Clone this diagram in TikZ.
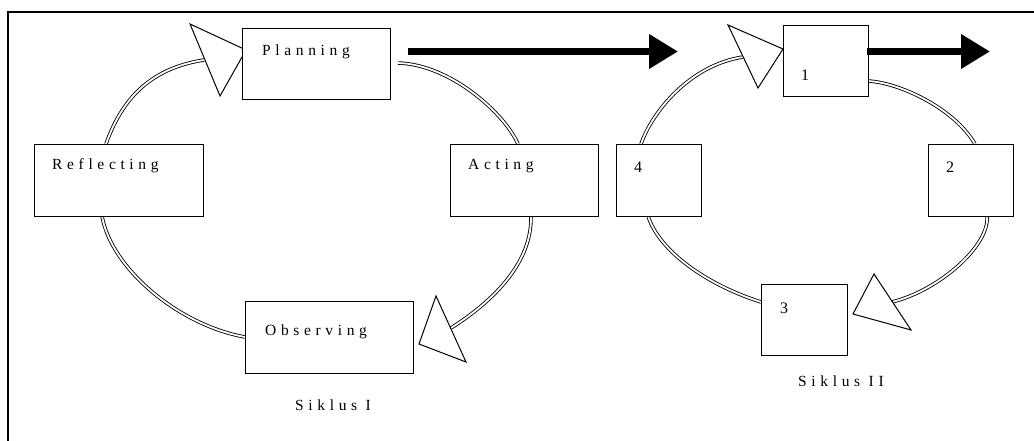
\documentclass[tikz,border=0pt]{standalone}
\usepackage{fontspec}
\setmainfont{Liberation Serif}
\newfontfamily\spaced[LetterSpace=30]{Liberation Serif}
\usetikzlibrary{arrows.meta}
\begin{document}
\begin{tikzpicture}[x=1pt,y=-1pt,
 box/.style={draw, line width=1.1pt, fill=white, inner sep=0pt, anchor=north west},
 lbl/.style={anchor=base west, inner sep=0pt, font=\fontsize{15.5}{18}\selectfont\spaced},
 num/.style={anchor=base west, inner sep=0pt, font=\fontsize{16}{18}\selectfont},
 ring/.style={double=white, double distance=1.8pt, line width=0.85pt},
 head/.style={draw, line width=1pt, fill=white, line join=miter},
 bigarrow/.style={line width=7pt, -{Triangle[length=29pt,width=33pt]}}]
\useasboundingbox (0,0) rectangle (1034,441);
\fill[white] (0,0) rectangle (1034,441);
\draw[line width=1.3pt] (8,12) rectangle (1040,448);

% curve end points
\coordinate (c1s) at (106,144); \coordinate (c1e) at (204,60);
\coordinate (c2s) at (398,63);  \coordinate (c2e) at (518,144);
\coordinate (c3s) at (531,216); \coordinate (c3e) at (451,328);
\coordinate (c4s) at (102,216); \coordinate (c4e) at (245,337);
\coordinate (c5s) at (641,144); \coordinate (c5e) at (743,57);
\coordinate (c6s) at (868,81);  \coordinate (c6e) at (975,144);
\coordinate (c7s) at (987,216); \coordinate (c7e) at (892,302);
\coordinate (c8s) at (648,216); \coordinate (c8e) at (761,302);

% cycle curves
\draw[ring] (c1s) .. controls (125,90) and (159,67) .. (c1e);
\draw[ring] (c2s) .. controls (451,64.5) and (505,114) .. (c2e);
\draw[ring] (c3s) .. controls (532,262) and (495,300) .. (c3e);
\draw[ring] (c4s) .. controls (111,268) and (178,325) .. (c4e);
\draw[ring] (c5s) .. controls (652,112) and (690,65) .. (c5e);
\draw[ring] (c6s) .. controls (899,82.5) and (954,108) .. (c6e);
\draw[ring] (c7s) .. controls (990,245) and (940,290) .. (c7e);
\draw[ring] (c8s) .. controls (659,251) and (707,285) .. (c8e);

% hollow arrow heads
\draw[head] (190,24) -- (246,50) -- (220,96) -- cycle;
\draw[head] (436,296) -- (419,344) -- (466,362) -- cycle;
\draw[head] (728,25) -- (783,49) -- (758,88) -- cycle;
\draw[head] (874,274) -- (853,314) -- (911,330) -- cycle;

% boxes
\node[box, minimum width=148pt, minimum height=71pt] (plan) at (242,28) {};
\node[box, minimum width=169pt, minimum height=72pt] (refl) at (34,144) {};
\node[box, minimum width=148pt, minimum height=72pt] (act) at (450,144) {};
\node[box, minimum width=168pt, minimum height=72pt] (obs) at (245,301) {};
\node[box, minimum width=85pt, minimum height=71pt] (b1) at (783,25) {};
\node[box, minimum width=85pt, minimum height=72pt] (b4) at (616,144) {};
\node[box, minimum width=85pt, minimum height=72pt] (b2) at (928,144) {};
\node[box, minimum width=86pt, minimum height=71pt] (b3) at (761,284) {};

% labels
\node[lbl] (tplan) at (262,56) {Planning};
\node[lbl] (trefl) at (52,170) {Reflecting};
\node[lbl] (tact) at (468,170) {Acting};
\node[lbl] (tobs) at (265,335) {Observing};
\node[lbl] (s1) at (295,410) {Siklus I};
\node[lbl] (s2) at (798,386) {Siklus II};
\node[num] (t1) at (801,81) {1};
\node[num] (t4) at (634,173) {4};
\node[num] (t2) at (946,173) {2};
\node[num] (t3) at (780,313) {3};

% thick arrows
\coordinate (a1s) at (408,51.5); \coordinate (a1e) at (678,51.5);
\coordinate (a2s) at (867,51.5); \coordinate (a2e) at (990,51.5);
\draw[bigarrow] (a1s) -- (a1e);
\draw[bigarrow] (a2s) -- (a2e);
\end{tikzpicture}
\end{document}
